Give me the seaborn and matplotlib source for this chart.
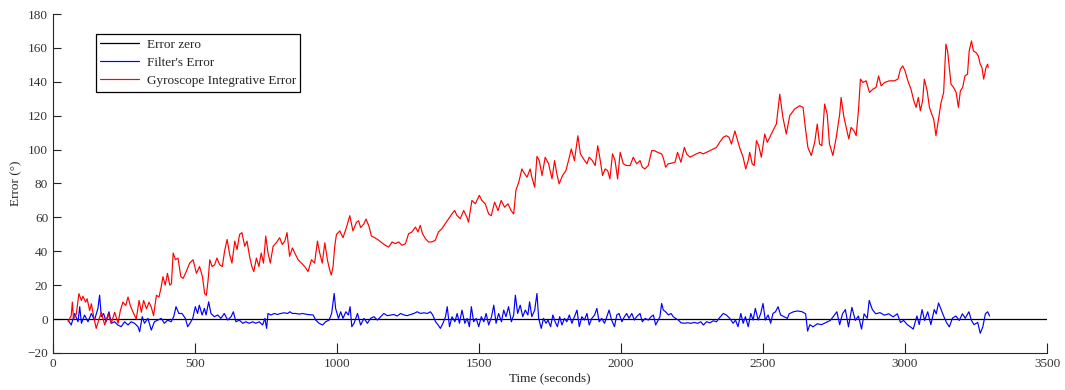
import matplotlib
matplotlib.use("Agg")
import matplotlib.pyplot as plt
import numpy as np
import pandas as pd
import seaborn as sns

# zero reference
zero_t = [0, 3500]
zero_err = [0, 0]

# gyroscope integrative error
gyro_t = [
    53, 64, 68, 72, 82, 91, 100, 105, 115, 120, 129, 135, 143, 152, 162, 170, 182, 194, 205, 217,
    229, 237, 246, 256, 264, 272, 282, 293, 303, 311, 319, 329, 338, 346, 354, 364, 373, 381, 387, 395,
    403, 411, 417, 423, 431, 440, 450, 458, 469, 481, 493, 505, 516, 526, 534, 540, 546, 552, 560, 569,
    577, 587, 596, 604, 613, 622, 630, 640, 648, 657, 665, 675, 683, 692, 700, 707, 716, 725, 733, 741,
    749, 757, 765, 775, 786, 798, 807, 816, 824, 833, 843, 851, 863, 875, 886, 898, 910, 921, 931, 939,
    948, 957, 966, 974, 980, 986, 992, 998, 1010, 1021, 1033, 1045, 1056, 1068, 1076, 1083, 1094, 1102, 1112, 1121,
    1133, 1147, 1158, 1170, 1182, 1194, 1205, 1217, 1229, 1241, 1252, 1264, 1276, 1285, 1293, 1301, 1311, 1322, 1334, 1346,
    1357, 1369, 1381, 1393, 1405, 1414, 1422, 1434, 1446, 1457, 1463, 1475, 1487, 1501, 1510, 1522, 1534, 1543, 1555, 1567,
    1578, 1590, 1602, 1613, 1622, 1630, 1640, 1651, 1657, 1669, 1680, 1686, 1696, 1704, 1712, 1722, 1733, 1745, 1757, 1766,
    1774, 1782, 1794, 1806, 1815, 1825, 1836, 1848, 1857, 1868, 1880, 1888, 1899, 1909, 1918, 1926, 1935, 1944, 1953, 1961,
    1970, 1979, 1988, 1997, 2008, 2020, 2032, 2043, 2055, 2067, 2075, 2084, 2096, 2108, 2117, 2129, 2143, 2150, 2157, 2166,
    2178, 2190, 2199, 2211, 2223, 2231, 2243, 2254, 2266, 2278, 2289, 2301, 2313, 2325, 2336, 2348, 2360, 2371, 2380, 2389,
    2401, 2409, 2418, 2430, 2439, 2448, 2453, 2462, 2469, 2477, 2485, 2494, 2506, 2515, 2524, 2535, 2547, 2559, 2570, 2582,
    2594, 2611, 2629, 2641, 2649, 2658, 2670, 2682, 2691, 2699, 2707, 2717, 2726, 2734, 2746, 2758, 2770, 2775, 2785, 2793,
    2802, 2810, 2820, 2828, 2836, 2843, 2852, 2863, 2875, 2887, 2898, 2907, 2916, 2928, 2945, 2963, 2975, 2984, 2992, 3000,
    3010, 3021, 3031, 3039, 3047, 3054, 3062, 3068, 3078, 3086, 3094, 3101, 3109, 3117, 3127, 3136, 3144, 3150, 3156, 3162,
    3171, 3180, 3188, 3195, 3203, 3211, 3220, 3226, 3234, 3241, 3250, 3258, 3265, 3271, 3277, 3285, 3291, 3293,
]
gyro_err = [
    -1.5, 2, 10, 0, 3, 15, 11, 13.5, 10, 12, 5, 9, 1.5, -5.5, 0, 4, -3.5, 3, -2.5, 4,
    -2.5, 5, 10, 8, 13, 8, 4, 0, 11, 4, 11, 6, 10, 7, 2, 14, 13, 19, 25, 20,
    27, 20, 21, 39, 35, 36, 25, 24, 28, 33, 35, 27, 31, 25, 15, 14, 23, 35, 31, 32,
    36, 32, 31, 40, 47, 38, 33, 46, 41, 50, 51, 43, 46, 37, 31, 28, 36, 31, 39, 33,
    49, 39, 33, 43, 45, 48, 44, 46, 51, 37, 42, 39, 35, 33, 31, 28, 35, 33, 46, 39,
    33, 45, 35, 29, 26, 31, 43, 50, 52, 48, 54, 61, 52, 57, 58, 54, 56, 59, 55, 49,
    48, 46.5, 45, 43.5, 42.5, 45.5, 44.5, 45.5, 43.5, 44.5, 50.4, 51.4, 54.3, 51.4, 55.3, 50.4, 47.5, 45.5, 45.5, 46.5,
    51.4, 53.3, 56.3, 59.2, 62.1, 64.1, 61.2, 59.2, 64.1, 60.2, 57.2, 70, 68, 73, 70, 68, 62, 61, 69, 64,
    70, 66, 68, 64, 62, 76, 80.8, 88.6, 86.7, 83.7, 88.6, 83.7, 77.8, 96, 93.5, 84.7, 95.5, 91.6, 82.7, 93.5,
    85.7, 79.8, 84.7, 87.6, 93.5, 100.4, 93.5, 108.2, 97.5, 94.5, 91.6, 95.5, 93.5, 90.6, 102.3, 94.5, 84.7, 88.6, 87.6, 82.7,
    97.5, 93.5, 82.7, 98.4, 91.6, 90.6, 90.6, 95.5, 91.6, 93.5, 89.6, 88.6, 90.6, 99.4, 99.4, 98.4, 97.5, 94.5, 89.6, 91.6,
    92, 92.5, 98.4, 92.5, 101.3, 97.5, 95.5, 96.5, 97.5, 98.4, 97.5, 98.4, 99.4, 100.4, 101.3, 104.5, 107.3, 108.2, 107.3, 103.3,
    111, 106.3, 101, 95.5, 88.6, 93.5, 98.4, 91.6, 90.6, 105.3, 102.3, 95.5, 109.2, 104.3, 107.3, 111.2, 115.1, 132.7, 119, 109.2,
    120, 123.9, 125.9, 124.9, 113.1, 101.3, 96.5, 104.3, 115.1, 103.3, 102.3, 126.9, 121, 103.3, 96.5, 107.3, 121, 130.8, 119, 113.1,
    106.3, 113.1, 111.2, 108.2, 122.9, 141.6, 139.6, 140.6, 133.7, 135.7, 136.7, 143.5, 137.6, 139.6, 140.6, 140.6, 141.6, 147.5, 149.4, 146.5,
    140.6, 135.7, 128.8, 124.9, 130.8, 122.9, 128.8, 141.6, 134.7, 124.9, 121, 118, 108.2, 117, 127.8, 133.7, 162.2, 158.2, 148.4, 138.6,
    136.7, 133.7, 124.9, 134.7, 136.7, 143.5, 144.5, 158.2, 164.1, 158.2, 157.3, 155.3, 150.4, 148.4, 141.6, 148.4, 150.4, 148.4,
]

# filter's error
filter_t = [
    53, 64, 76, 88, 94, 100, 111, 123, 135, 146, 158, 164, 170, 178, 187, 197, 205, 217, 228, 240,
    252, 264, 275, 287, 299, 305, 314, 322, 334, 346, 357, 369, 381, 392, 404, 416, 425, 433, 443, 454,
    466, 474, 482, 492, 501, 509, 515, 525, 533, 539, 548, 556, 568, 580, 591, 603, 615, 627, 635, 644,
    656, 668, 679, 691, 703, 714, 726, 738, 746, 752, 757, 767, 779, 790, 802, 814, 826, 834, 843, 855,
    867, 878, 896, 916, 925, 937, 949, 960, 972, 981, 990, 995, 1005, 1013, 1021, 1031, 1040, 1046, 1052, 1060,
    1072, 1083, 1095, 1107, 1118, 1130, 1142, 1154, 1165, 1177, 1189, 1200, 1212, 1224, 1236, 1247, 1259, 1271, 1282, 1294,
    1306, 1318, 1329, 1337, 1347, 1356, 1364, 1373, 1382, 1388, 1396, 1405, 1415, 1423, 1431, 1440, 1450, 1458, 1466, 1473,
    1481, 1490, 1499, 1508, 1517, 1525, 1534, 1544, 1552, 1560, 1569, 1579, 1587, 1595, 1604, 1614, 1622, 1628, 1636, 1645,
    1654, 1663, 1672, 1678, 1686, 1696, 1704, 1710, 1719, 1727, 1736, 1743, 1752, 1760, 1768, 1776, 1784, 1792, 1801, 1809,
    1818, 1827, 1836, 1845, 1853, 1862, 1871, 1880, 1888, 1897, 1907, 1915, 1923, 1932, 1942, 1950, 1958, 1967, 1977, 1985,
    1993, 2003, 2012, 2020, 2028, 2038, 2047, 2055, 2067, 2075, 2085, 2096, 2106, 2114, 2122, 2131, 2137, 2143, 2149, 2157,
    2167, 2176, 2184, 2192, 2202, 2211, 2223, 2234, 2246, 2258, 2270, 2281, 2290, 2301, 2313, 2325, 2336, 2348, 2360, 2371,
    2383, 2395, 2403, 2412, 2422, 2430, 2438, 2448, 2457, 2465, 2473, 2483, 2492, 2500, 2508, 2518, 2527, 2535, 2544, 2553,
    2562, 2574, 2586, 2592, 2607, 2622, 2638, 2650, 2657, 2665, 2676, 2691, 2706, 2722, 2737, 2749, 2760, 2770, 2780, 2790,
    2801, 2813, 2825, 2836, 2847, 2856, 2867, 2874, 2885, 2897, 2912, 2927, 2943, 2958, 2973, 2984, 2995, 3008, 3019, 3029,
    3042, 3050, 3060, 3069, 3080, 3091, 3103, 3110, 3118, 3127, 3136, 3146, 3156, 3167, 3179, 3191, 3202, 3212, 3225, 3234,
    3243, 3256, 3265, 3274, 3283, 3291, 3298,
]
filter_err = [
    -0.6, -3.5, 3.3, -1.6, 7.3, -2.5, 2.4, -1.6, 3.3, -0.6, 6.3, 14.1, 1.4, 3.3, -1.6, 4.3, -2.5, -1.6, -3.5, -4.5,
    -1.6, -3.5, -1.6, -2.5, -4.5, -7.5, 1.4, -2.5, 0.4, -6.5, -1.6, -0.6, 0.4, -2.5, -0.6, -1.6, 1.4, 7.3, 3.3, 3.3,
    0.4, -4.5, -2.5, 0.4, 7.3, 3.3, 8.2, 2.4, 6.3, 2.4, 10.2, 3.3, 1.4, 2.4, 0.4, 3.3, -0.6, 1.4, 4.3, -1.6,
    -0.6, -2.5, -1.6, -2.5, -1.6, -2.5, -1.6, -3.5, 0.4, -5.5, 3.3, 2.4, 3.3, 2.7, 3.3, 3.7, 3.3, 4.3, 3.3, 3.3,
    2.9, 3.3, 2.7, 2.4, -0.6, -2.5, -3.5, -1.6, -0.6, 3.3, 15.1, 6.3, 0.4, 4.3, 0.4, 4.3, 2.4, 7.3, -4.5, -2.5,
    3.3, -3.5, 0.4, -2.5, 0.4, 1.4, -0.6, 1.4, 3.3, 2.0, 2.4, 2.7, 1.8, 3.3, 2.4, 2.0, 2.7, 3.3, 4.3, 3.3,
    3.7, 3.3, 4.3, 2.4, -1.6, -3.5, -5.5, -2.5, 1.4, 7.3, -4.5, 1.4, -1.6, 3.3, -2.5, 5.3, -2.5, 0.4, -4.5, 7.3,
    -1.6, 0.4, -4.5, 1.4, -1.6, 3.3, -3.5, 1.4, 8.2, -2.5, 3.3, -1.6, 5.3, 1.4, 7.3, -1.6, 2.4, 14.1, 3.3, 8.2,
    1.4, 5.3, 2.4, 10.2, 1.4, 5.3, 15.1, 0.4, -5.5, 0.4, -2.5, -0.6, -4.5, 2.4, -1.6, -4.5, 1.4, -3.5, 0.4, -1.6,
    2.4, -2.5, 1.4, 5.3, -4.5, 1.4, -0.6, 3.3, -3.5, 0.4, 2.4, 6.3, -1.6, 0.4, -2.5, 1.4, 5.3, -0.6, -4.5, 2.4,
    3.3, -1.6, 1.4, 3.3, 0.4, 3.3, -0.6, 1.4, 3.3, -1.6, 0.4, -0.6, 1.4, 2.4, -3.5, -0.6, 1.4, 9.2, 5.3, 4.3,
    2.4, 3.3, 1.4, 0.4, -0.6, -2.2, -2.5, -2.2, -2.5, -2.0, -2.5, -1.6, -3.5, -1.6, -2.2, -1.0, -1.6, 1.0, 3.3, 2.4,
    0.4, -2.5, -0.6, -4.5, 3.3, -2.5, 1.4, -4.5, 3.3, -0.6, 6.3, -0.6, 3.3, 9.2, -0.6, 2.4, -2.5, 3.3, 4.3, 7.3,
    2.4, 1.4, 0.4, 3.1, 4.3, 4.8, 4.3, 3.1, -7.1, -3.3, -4.6, -2.8, -3.3, -2.0, -0.8, 1.8, 4.3, -3.3, 3.1, 5.6,
    -4.6, 6.9, -0.8, 1.8, -5.9, 3.1, 0.5, 11, 5.6, 3.1, 3.8, 2.3, 3.1, 1.3, 3.1, -2.0, -0.8, -3.3, -4.6, -5.9,
    1.8, -3.3, 5.6, -0.8, 4.3, -3.3, 5.6, 3.1, 9.5, 5.6, 1.8, -2.0, -4.6, 0.5, 1.8, -0.8, 3.1, 0.5, 4.3, -0.8,
    -3.3, -2.0, -8.4, -4.6, 3.1, 4.3, 1.8,
]

sns.set_style("ticks")
plt.rcParams["font.family"] = ["Liberation Serif", "DejaVu Serif"]
plt.rcParams["font.size"] = 9.5
plt.rcParams["xtick.direction"] = "in"
plt.rcParams["ytick.direction"] = "in"
plt.rcParams["xtick.major.size"] = 7
plt.rcParams["ytick.major.size"] = 6
plt.rcParams["axes.linewidth"] = 0.8

zero_df = pd.DataFrame({"t": zero_t, "err": zero_err})
filter_df = pd.DataFrame({"t": filter_t, "err": filter_err})
gyro_df = pd.DataFrame({"t": gyro_t, "err": gyro_err})

fig = plt.figure(figsize=(10.65, 3.9), dpi=100)
ax = fig.add_axes([0.0498, 0.095, 0.9333, 0.869])

sns.lineplot(data=zero_df, x="t", y="err", color="black", lw=0.9, label="Error zero",
             estimator=None, sort=False, ax=ax)
sns.lineplot(data=filter_df, x="t", y="err", color="#0000ff", lw=0.85, label="Filter's Error",
             estimator=None, sort=False, ax=ax)
sns.lineplot(data=gyro_df, x="t", y="err", color="#ff0000", lw=0.85, label="Gyroscope Integrative Error",
             estimator=None, sort=False, ax=ax)

ax.set_xlim(0, 3500)
ax.set_ylim(-20, 180)
ax.set_xticks(np.arange(0, 3501, 500))
ax.set_yticks(np.arange(-20, 181, 20))
ax.set_xlabel("Time (seconds)", labelpad=2)
ax.set_ylabel("Error (°)", labelpad=4)
ax.tick_params(axis="both", colors="#222222", labelcolor="#333333", width=0.8)
sns.despine(ax=ax)

leg = ax.legend(loc="upper left", bbox_to_anchor=(0.043, 0.942), fancybox=False, frameon=True,
                edgecolor="black", framealpha=1, borderpad=0.35, labelspacing=0.45,
                handlelength=2.9, handletextpad=0.6, borderaxespad=0)
leg.get_frame().set_linewidth(0.9)

fig.savefig("out.png", dpi=100)
plt.close(fig)
